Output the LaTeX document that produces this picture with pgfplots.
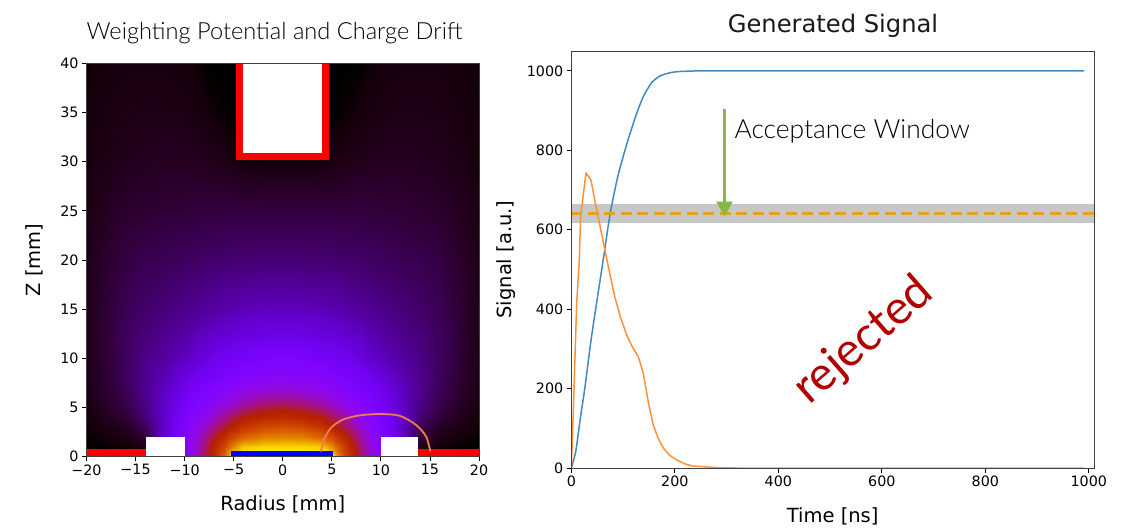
\documentclass[border=0pt]{standalone}
\usepackage{pgfplots}
\pgfplotsset{compat=1.18}
\usetikzlibrary{arrows.meta}
\usepackage{fontspec}
\setmainfont{DejaVu Sans}
\newfontfamily\lightf{Lato Light}
\newfontfamily\regf{Lato}
\definecolor{sigblue}{HTML}{3F8ABF}
\definecolor{sigorange}{HTML}{FF9038}
\definecolor{dashor}{HTML}{E8A020}
\definecolor{arrowgreen}{HTML}{84B84C}
\definecolor{rejred}{HTML}{B00000}
\definecolor{drift}{HTML}{F07C50}
\pgfplotsset{
  colormap={gnup}{rgb(0pt)=(0,0,0) rgb(1pt)=(.071,0,.031) rgb(2pt)=(.1,0,.063) rgb(4pt)=(.141,0,.125) rgb(6pt)=(.173,0,.187) rgb(10pt)=(.224,0,.309) rgb(15pt)=(.274,0,.454) rgb(20pt)=(.316,.001,.588) rgb(30pt)=(.387,.003,.809) rgb(40pt)=(.447,.008,.951) rgb(50pt)=(.5,.016,1) rgb(60pt)=(.548,.027,.951) rgb(70pt)=(.592,.043,.809) rgb(80pt)=(.632,.064,.588) rgb(90pt)=(.671,.091,.309) rgb(100pt)=(.707,.125,0) rgb(110pt)=(.742,.166,0) rgb(120pt)=(.775,.216,0) rgb(130pt)=(.806,.275,0) rgb(140pt)=(.837,.343,0) rgb(150pt)=(.866,.422,0) rgb(160pt)=(.894,.512,0) rgb(170pt)=(.922,.614,0) rgb(180pt)=(.949,.729,0) rgb(190pt)=(.975,.857,0) rgb(200pt)=(1,1,0)},
  common/.style={scale only axis, tick align=outside, tick pos=left,
    axis line style={black!75,line width=.8pt},
    major tick length=4.5pt, tick style={black,line width=.8pt},
    tick label style={font=\fontsize{14.3}{17}\selectfont},
    xlabel style={font=\fontsize{19.5}{22}\selectfont},
    ylabel style={font=\fontsize{19.5}{22}\selectfont}}
}
\begin{document}
\begin{tikzpicture}[x=1pt,y=1pt]
\useasboundingbox (0,0) rectangle (1132,531);
\begin{axis}[common, at={(86.5pt,74.5pt)}, anchor=south west, width=392.5pt, height=393pt,
  view={0}{90}, xmin=-20, xmax=20, ymin=0, ymax=40, zmin=0, zmax=1,
  ztick=\empty, axis on top,
  xtick={-20,-15,-10,-5,0,5,10,15,20},
  xticklabels={−20,−15,−10,−5,0,5,10,15,20},
  ytick={0,5,10,15,20,25,30,35,40},
  yticklabels={0,5,10,15,20,25,30,35,40},
  xlabel={Radius [mm]}, ylabel={Z [mm]},
  xlabel style={at={(axis description cs:0.5,0)},anchor=north,yshift=-36pt},
  ylabel style={at={(axis description cs:0,0.5)},anchor=south,yshift=40pt},
  colormap name=gnup, point meta min=0, point meta max=1]
\addplot3[surf, shader=interp, mesh/rows=17, mesh/cols=27] coordinates {
(-20,0,0)(-18,0,0)(-16,0,0)(-14,0,0)(-12,0,.16)(-10,0,.27)(-9,0,.33)(-8,0,.43)(-7,0,.55)(-6,0,.72)(-5,0,1)(-4,0,1)(-2,0,1)(0,0,1)(2,0,1)(4,0,1)(5,0,1)(6,0,.72)(7,0,.55)(8,0,.43)(9,0,.33)(10,0,.27)(12,0,.16)(14,0,0)(16,0,0)(18,0,0)(20,0,0)
(-20,1,0)(-18,1,.002)(-16,1,.004)(-14,1,.015)(-12,1,.15)(-10,1,.26)(-9,1,.33)(-8,1,.42)(-7,1,.53)(-6,1,.66)(-5,1,.82)(-4,1,.93)(-2,1,.95)(0,1,.95)(2,1,.95)(4,1,.93)(5,1,.82)(6,1,.66)(7,1,.53)(8,1,.42)(9,1,.33)(10,1,.26)(12,1,.15)(14,1,.015)(16,1,.004)(18,1,.002)(20,1,0)
(-20,2,.002)(-18,2,.006)(-16,2,.012)(-14,2,.035)(-12,2,.15)(-10,2,.26)(-9,2,.31)(-8,2,.39)(-7,2,.47)(-6,2,.555)(-5,2,.66)(-4,2,.73)(-2,2,.79)(0,2,.8)(2,2,.79)(4,2,.73)(5,2,.66)(6,2,.555)(7,2,.47)(8,2,.39)(9,2,.31)(10,2,.26)(12,2,.15)(14,2,.035)(16,2,.012)(18,2,.006)(20,2,.002)
(-20,3,.004)(-18,3,.012)(-16,3,.022)(-14,3,.055)(-12,3,.15)(-10,3,.245)(-9,3,.29)(-8,3,.34)(-7,3,.41)(-6,3,.46)(-5,3,.52)(-4,3,.59)(-2,3,.66)(0,3,.68)(2,3,.66)(4,3,.59)(5,3,.52)(6,3,.46)(7,3,.41)(8,3,.34)(9,3,.29)(10,3,.245)(12,3,.15)(14,3,.055)(16,3,.022)(18,3,.012)(20,3,.004)
(-20,4,.006)(-18,4,.018)(-16,4,.034)(-14,4,.075)(-12,4,.155)(-10,4,.235)(-9,4,.27)(-8,4,.31)(-7,4,.35)(-6,4,.405)(-5,4,.45)(-4,4,.49)(-2,4,.53)(0,4,.55)(2,4,.53)(4,4,.49)(5,4,.45)(6,4,.405)(7,4,.35)(8,4,.31)(9,4,.27)(10,4,.235)(12,4,.155)(14,4,.075)(16,4,.034)(18,4,.018)(20,4,.006)
(-20,5,.008)(-18,5,.024)(-16,5,.044)(-14,5,.088)(-12,5,.15)(-10,5,.22)(-9,5,.25)(-8,5,.28)(-7,5,.31)(-6,5,.34)(-5,5,.37)(-4,5,.41)(-2,5,.45)(0,5,.47)(2,5,.45)(4,5,.41)(5,5,.37)(6,5,.34)(7,5,.31)(8,5,.28)(9,5,.25)(10,5,.22)(12,5,.15)(14,5,.088)(16,5,.044)(18,5,.024)(20,5,.008)
(-20,6,.01)(-18,6,.028)(-16,6,.05)(-14,6,.092)(-12,6,.145)(-10,6,.205)(-9,6,.235)(-8,6,.255)(-7,6,.275)(-6,6,.295)(-5,6,.32)(-4,6,.345)(-2,6,.38)(0,6,.39)(2,6,.38)(4,6,.345)(5,6,.32)(6,6,.295)(7,6,.275)(8,6,.255)(9,6,.235)(10,6,.205)(12,6,.145)(14,6,.092)(16,6,.05)(18,6,.028)(20,6,.01)
(-20,7,.012)(-18,7,.03)(-16,7,.055)(-14,7,.095)(-12,7,.14)(-10,7,.19)(-9,7,.215)(-8,7,.235)(-7,7,.255)(-6,7,.27)(-5,7,.285)(-4,7,.3)(-2,7,.32)(0,7,.33)(2,7,.32)(4,7,.3)(5,7,.285)(6,7,.27)(7,7,.255)(8,7,.235)(9,7,.215)(10,7,.19)(12,7,.14)(14,7,.095)(16,7,.055)(18,7,.03)(20,7,.012)
(-20,8,.013)(-18,8,.032)(-16,8,.058)(-14,8,.095)(-12,8,.13)(-10,8,.175)(-9,8,.195)(-8,8,.215)(-7,8,.23)(-6,8,.24)(-5,8,.255)(-4,8,.27)(-2,8,.285)(0,8,.29)(2,8,.285)(4,8,.27)(5,8,.255)(6,8,.24)(7,8,.23)(8,8,.215)(9,8,.195)(10,8,.175)(12,8,.13)(14,8,.095)(16,8,.058)(18,8,.032)(20,8,.013)
(-20,10,.015)(-18,10,.034)(-16,10,.06)(-14,10,.088)(-12,10,.11)(-10,10,.135)(-9,10,.15)(-8,10,.17)(-7,10,.19)(-6,10,.2)(-5,10,.21)(-4,10,.22)(-2,10,.235)(0,10,.24)(2,10,.235)(4,10,.22)(5,10,.21)(6,10,.2)(7,10,.19)(8,10,.17)(9,10,.15)(10,10,.135)(12,10,.11)(14,10,.088)(16,10,.06)(18,10,.034)(20,10,.015)
(-20,12,.016)(-18,12,.035)(-16,12,.06)(-14,12,.08)(-12,12,.098)(-10,12,.118)(-9,12,.13)(-8,12,.145)(-7,12,.155)(-6,12,.165)(-5,12,.172)(-4,12,.18)(-2,12,.187)(0,12,.19)(2,12,.187)(4,12,.18)(5,12,.172)(6,12,.165)(7,12,.155)(8,12,.145)(9,12,.13)(10,12,.118)(12,12,.098)(14,12,.08)(16,12,.06)(18,12,.035)(20,12,.016)
(-20,15,.016)(-18,15,.033)(-16,15,.054)(-14,15,.068)(-12,15,.078)(-10,15,.09)(-9,15,.097)(-8,15,.104)(-7,15,.11)(-6,15,.118)(-5,15,.123)(-4,15,.128)(-2,15,.133)(0,15,.135)(2,15,.133)(4,15,.128)(5,15,.123)(6,15,.118)(7,15,.11)(8,15,.104)(9,15,.097)(10,15,.09)(12,15,.078)(14,15,.068)(16,15,.054)(18,15,.033)(20,15,.016)
(-20,20,.014)(-18,20,.028)(-16,20,.042)(-14,20,.05)(-12,20,.054)(-10,20,.06)(-9,20,.063)(-8,20,.066)(-7,20,.068)(-6,20,.07)(-5,20,.072)(-4,20,.073)(-2,20,.074)(0,20,.075)(2,20,.074)(4,20,.073)(5,20,.072)(6,20,.07)(7,20,.068)(8,20,.066)(9,20,.063)(10,20,.06)(12,20,.054)(14,20,.05)(16,20,.042)(18,20,.028)(20,20,.014)
(-20,25,.012)(-18,25,.02)(-16,25,.028)(-14,25,.032)(-12,25,.034)(-10,25,.036)(-9,25,.037)(-8,25,.038)(-7,25,.038)(-6,25,.039)(-5,25,.04)(-4,25,.04)(-2,25,.04)(0,25,.04)(2,25,.04)(4,25,.04)(5,25,.04)(6,25,.039)(7,25,.038)(8,25,.038)(9,25,.037)(10,25,.036)(12,25,.034)(14,25,.032)(16,25,.028)(18,25,.02)(20,25,.012)
(-20,30,.008)(-18,30,.013)(-16,30,.017)(-14,30,.02)(-12,30,.021)(-10,30,.021)(-9,30,.02)(-8,30,.018)(-7,30,.016)(-6,30,.013)(-5,30,.01)(-4,30,.008)(-2,30,.006)(0,30,.006)(2,30,.006)(4,30,.008)(5,30,.01)(6,30,.013)(7,30,.016)(8,30,.018)(9,30,.02)(10,30,.021)(12,30,.021)(14,30,.02)(16,30,.017)(18,30,.013)(20,30,.008)
(-20,35,.006)(-18,35,.01)(-16,35,.013)(-14,35,.014)(-12,35,.014)(-10,35,.012)(-9,35,.01)(-8,35,.007)(-7,35,.004)(-6,35,.002)(-5,35,0)(-4,35,0)(-2,35,0)(0,35,0)(2,35,0)(4,35,0)(5,35,0)(6,35,.002)(7,35,.004)(8,35,.007)(9,35,.01)(10,35,.012)(12,35,.014)(14,35,.014)(16,35,.013)(18,35,.01)(20,35,.006)
(-20,40,.004)(-18,40,.007)(-16,40,.009)(-14,40,.009)(-12,40,.009)(-10,40,.007)(-9,40,.004)(-8,40,.001)(-7,40,0)(-6,40,0)(-5,40,0)(-4,40,0)(-2,40,0)(0,40,0)(2,40,0)(4,40,0)(5,40,0)(6,40,0)(7,40,0)(8,40,.001)(9,40,.004)(10,40,.007)(12,40,.009)(14,40,.009)(16,40,.009)(18,40,.007)(20,40,.004)
};
% electrodes
\addplot3[fill=red, draw=none] coordinates {(-20,0,1)(-13.9,0,1)(-13.9,.8,1)(-20,.8,1)} -- cycle;
\addplot3[fill=red, draw=none] coordinates {(20,0,1)(13.8,0,1)(13.8,.8,1)(20,.8,1)} -- cycle;
\addplot3[fill=white, draw=none] coordinates {(-13.9,0,1)(-10,0,1)(-10,2,1)(-13.9,2,1)} -- cycle;
\addplot3[fill=white, draw=none] coordinates {(13.8,0,1)(10,0,1)(10,2,1)(13.8,2,1)} -- cycle;
\addplot3[fill=blue, draw=none] coordinates {(-5.25,0,1)(5.15,0,1)(5.15,.55,1)(-5.25,.55,1)} -- cycle;
\addplot3[fill=red, draw=red, line width=1pt, line join=round] coordinates {(-4.75,41,1)(4.65,41,1)(4.65,30.2,1)(-4.75,30.2,1)} -- cycle;
\addplot3[fill=white, draw=none] coordinates {(-4.08,41,1)(3.98,41,1)(3.98,30.9,1)(-4.08,30.9,1)} -- cycle;
\addplot3[drift, line width=1.8pt, smooth, no marks] coordinates {(3.9,.5,1)(4.2,1.7,1)(4.9,2.9,1)(6.1,3.74,1)(7.8,4.18,1)(9.85,4.32,1)(11.9,4.15,1)(13.6,3.2,1)(14.6,2.04,1)(15.05,.5,1)};
\end{axis}
\begin{axis}[common, at={(571.3pt,63pt)}, anchor=south west, width=522.7pt, height=417pt,
  xmin=0, xmax=1010, ymin=0, ymax=1050, axis on top,
  xtick={0,200,400,600,800,1000},
  xticklabels={0,200,400,600,800,1000},
  ytick={0,200,400,600,800,1000},
  yticklabels={0,200,400,600,800,1000},
  xlabel={Time [ns]}, ylabel={Signal [a.u.]},
  xlabel style={at={(axis description cs:0.5,0)},anchor=north,yshift=-36pt},
  ylabel style={at={(axis description cs:0,0.5)},anchor=south,yshift=52pt}]
\addplot[fill=black!22, draw=none] coordinates {(0,618)(1010,618)(1010,665)(0,665)} -- cycle;
\addplot[sigblue, line width=1.5pt, no marks, smooth, tension=.35] coordinates {(0,0)(8.5,41)(17,121)(26,200)(39,330)(60,510)(75,640)(90,735)(107,815)(125,888)(139,935)(155,970)(171,987)(187,994)(204,998)(248,1000)(300,1000)(400,1000)(600,1000)(800,1000)(991,1000)};
\addplot[sigorange, line width=1.5pt, no marks, line join=round] coordinates {(0,0)(4,146)(10.4,415)(15.5,524)(18,633)(28.4,743)(38,725)(49,650)(60,580)(71.5,507)(84,431)(95,380)(107,335)(118,305)(129.5,280)(139,239)(149,164)(158.5,108)(168,74)(178,50)(190,32)(204,20)(220,10)(235,5)(280,1)(320,0)(500,0)(800,0)(991,0)};
\addplot[dashor, line width=2.6pt, dash pattern=on 11pt off 5.5pt, no marks] coordinates {(0,641)(1010,641)};
\addplot[arrowgreen, line width=2.4pt, no marks, -{Triangle[width=16pt,length=15pt]}] coordinates {(296,903)(296,633)};
\end{axis}
\node[font=\lightf\fontsize{23.6}{26}\selectfont, black, anchor=center] at (274.5,498) {Weighting Potential and Charge Drift};
\node[font=\fontsize{24.2}{27}\selectfont, black!90, anchor=center] at (833,505) {Generated Signal};
\node[font=\lightf\fontsize{26.4}{28}\selectfont, black, anchor=west] at (731,400) {Acceptance Window};
\node[font=\regf\fontsize{47}{50}\selectfont, rejred, rotate=41, anchor=center] at (864,190) {rejected};
\end{tikzpicture}
\end{document}
